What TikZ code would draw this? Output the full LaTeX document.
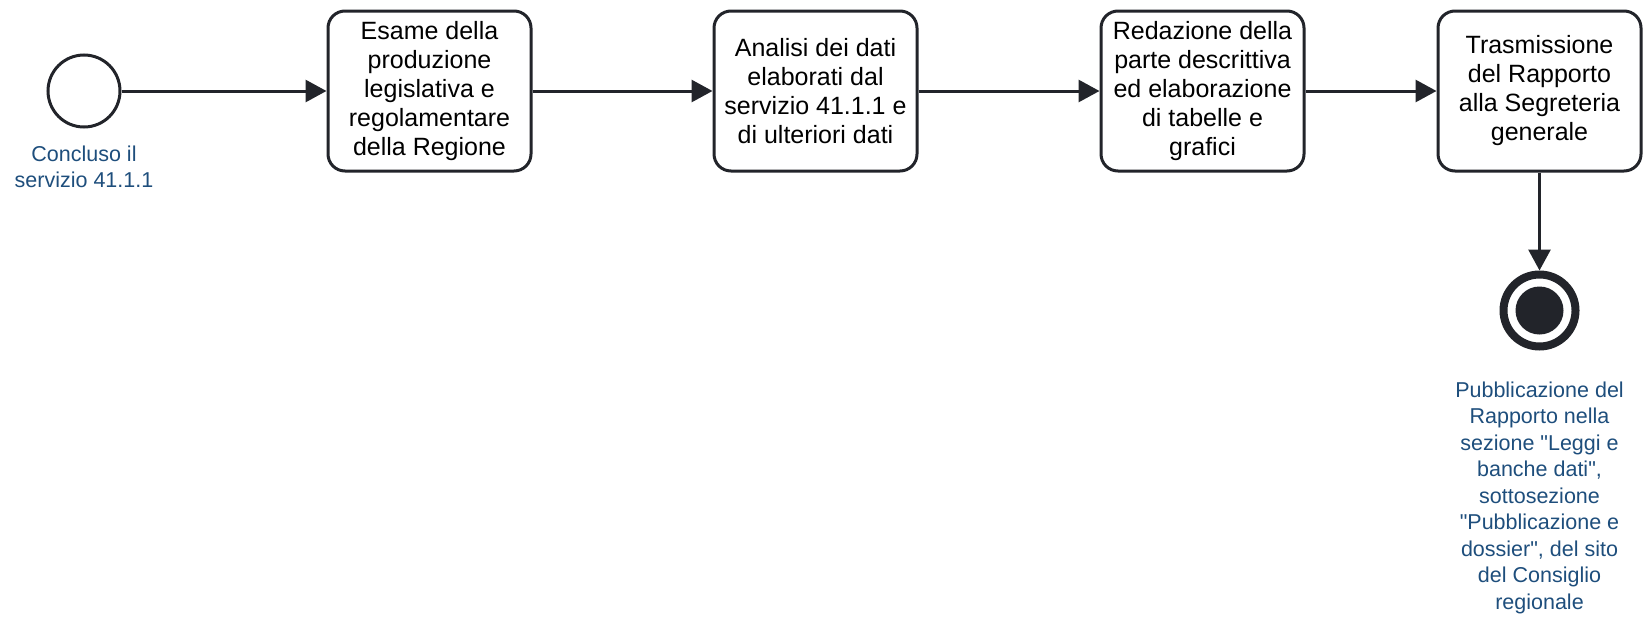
\documentclass[tikz,border=0pt]{standalone}
\usepackage{fontspec}
\setmainfont{Liberation Sans}
\usetikzlibrary{positioning,arrows.meta}
\definecolor{flowline}{RGB}{34,36,42}
\definecolor{eventlabel}{RGB}{30,78,124}

\begin{document}
\begin{tikzpicture}[x=1pt, y=-1pt,
                task/.style={rectangle, rounded corners=17pt, draw=flowline, line width=3pt, fill=white, minimum width=203pt, minimum height=160pt, align=center, inner sep=0pt, font=\fontsize{25}{29}\selectfont},
                startevent/.style={circle, draw=flowline, line width=3pt, fill=white, minimum size=72pt, inner sep=0pt},
                endevent/.style={circle, draw=flowline, line width=8pt, fill=white, minimum size=72pt, inner sep=0pt},
                evlabel/.style={align=center, inner sep=0pt, text=eventlabel, font=\fontsize{21.5}{26.5}\selectfont},
                flow/.style={-{Triangle[length=21pt,width=22pt]}, draw=flowline, line width=3pt}
            ]
                \useasboundingbox (0,0) rectangle (1648,616);

                \node[startevent] (start) at (84,91) {};
                \node[evlabel, below=17pt of start] (startlbl) {Concluso il\\servizio 41.1.1};

                \node[task, right=205pt of start] (esame) {Esame della\\produzione\\legislativa e\\regolamentare\\della Regione};
                \node[task, right=180pt of esame] (analisi) {Analisi dei dati\\elaborati dal\\servizio 41.1.1 e\\di ulteriori dati};
                \node[task, right=181pt of analisi] (redazione) {Redazione della\\parte descrittiva\\ed elaborazione\\di tabelle e\\grafici};
                \node[task, right=131pt of redazione] (trasm) {Trasmissione\\del Rapporto\\alla Segreteria\\generale};

                \node[endevent, below=98pt of trasm] (end) {};
                \fill[flowline] (end.center) circle (24);
                \node[evlabel, below=31pt of end] (endlbl) {Pubblicazione del\\Rapporto nella\\sezione \textquotedbl Leggi e\\banche dati\textquotedbl,\\sottosezione\\\textquotedbl Pubblicazione e\\dossier\textquotedbl, del sito\\del Consiglio\\regionale};

                \draw[flow] (start) -- (esame);
                \draw[flow] (esame) -- (analisi);
                \draw[flow] (analisi) -- (redazione);
                \draw[flow] (redazione) -- (trasm);
                \draw[flow] (trasm) -- (end);
            \end{tikzpicture}
\end{document}
